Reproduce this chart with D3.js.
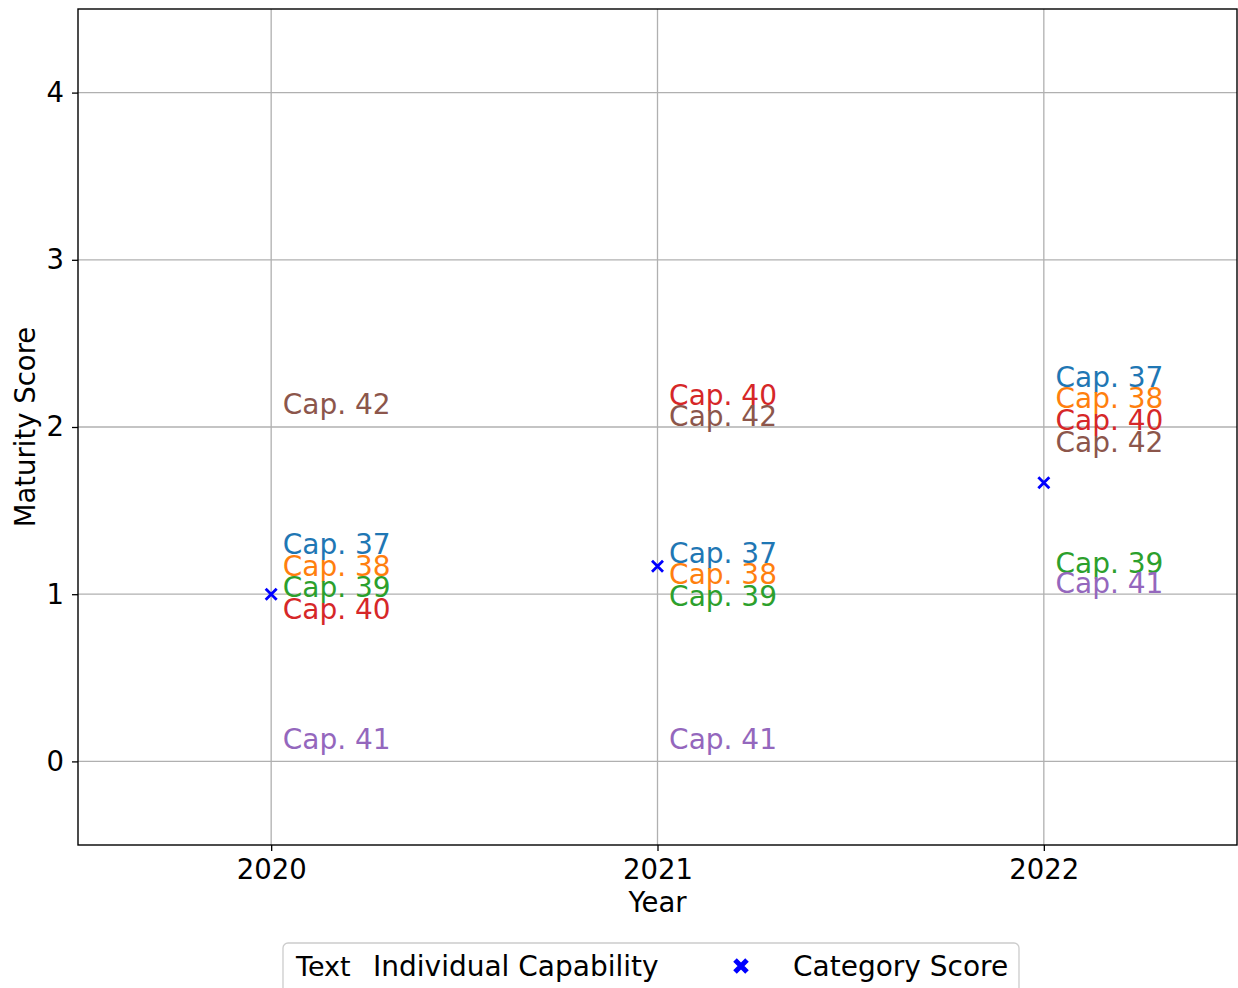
<!DOCTYPE html>
<html>
<head>
<meta charset="utf-8">
<script src="https://cdn.jsdelivr.net/npm/d3@7"></script>
<style>
  body { margin: 0; background: #fff; }
  svg text { font-family: 'DejaVu Sans', sans-serif; }
</style>
</head>
<body>
<svg id="chart" width="1238" height="988" viewBox="0 0 1238 988"></svg>
<script>
'use strict';

/* global d3 */

var years = [2020, 2021, 2022];
var capNames = ['Cap. 37', 'Cap. 38', 'Cap. 39', 'Cap. 40', 'Cap. 41', 'Cap. 42'];
var capColors = ['#1f77b4', '#ff7f0e', '#2ca02c', '#d62728', '#9467bd', '#8c564b'];

// maturity score per capability, one value per year
var score37 = [1, 1, 2];
var score38 = [1, 1, 2];
var score39 = [1, 1, 1];
var score40 = [1, 2, 2];
var score41 = [0, 0, 1];
var score42 = [2, 2, 2];

// where each label sits (labels are stacked so they don't overlap)
var label37 = [1.30, 1.25, 2.30];
var label38 = [1.17, 1.12, 2.173];
var label39 = [1.046, 0.99, 1.19];
var label40 = [0.91, 2.19, 2.043];
var label41 = [0.138, 0.138, 1.066];
var label42 = [2.136, 2.064, 1.914];

var categoryScores = [1.0, 1.167, 1.667];

var yTicks = [0, 1, 2, 3, 4];

var scores = [score37, score38, score39, score40, score41, score42];
var labels = [label37, label38, label39, label40, label41, label42];

var svg = d3.select('#chart');
var margins = { top: 9, right: 1, bottom: 143, left: 78 };
var width = 1238 - margins.left - margins.right;
var height = 988 - margins.top - margins.bottom;
var fontSize = 28;
var tickSize = 27.5;

var g = svg.append('g').attr('transform', 'translate(' + margins.left + ',' + margins.top + ')');

var x = d3.scaleLinear().domain([2019.5, 2022.5]).range([0, width]);
var y = d3.scaleLinear().domain([-0.5, 4.5]).range([height, 0]);

// grid
g.append('g').selectAll('line').data(years).enter().append('line')
  .attr('x1', function (d) { return x(d); })
  .attr('x2', function (d) { return x(d); })
  .attr('y1', 0).attr('y2', height)
  .attr('stroke', '#b0b0b0').attr('stroke-width', 1.3);

g.append('g').selectAll('line').data(yTicks).enter().append('line')
  .attr('x1', 0).attr('x2', width)
  .attr('y1', function (d) { return y(d); })
  .attr('y2', function (d) { return y(d); })
  .attr('stroke', '#b0b0b0').attr('stroke-width', 1.3);

// capability labels
var labelRows = [];
scores.forEach(function (s, i) {
  years.forEach(function (yr, j) {
    labelRows.push({ year: yr, score: s[j], pos: labels[i][j], name: capNames[i], color: capColors[i] });
  });
});

g.append('g').selectAll('text').data(labelRows).enter().append('text')
  .attr('x', function (d) { return x(d.year + 0.03); })
  .attr('y', function (d) { return y(d.pos) + fontSize * 0.364; })
  .attr('fill', function (d) { return d.color; })
  .style('font-size', fontSize + 'px')
  .text(function (d) { return d.name; });

// category score markers
var xMark = function (s) {
  return 'M' + (-s) + ',' + (-s) + 'L' + s + ',' + s + 'M' + (-s) + ',' + s + 'L' + s + ',' + (-s);
};

g.append('g').selectAll('path').data(categoryScores).enter().append('path')
  .attr('transform', function (d, i) { return 'translate(' + x(years[i]) + ',' + y(d) + ')'; })
  .attr('d', xMark(5.5))
  .attr('stroke', '#0000ff').attr('stroke-width', 2.8).attr('fill', 'none');

// axes
var xAxis = d3.axisBottom(x).tickValues(years).tickFormat(d3.format('d')).tickSize(6).tickPadding(8);
var yAxis = d3.axisLeft(y).tickValues(yTicks).tickFormat(d3.format('d')).tickSize(6).tickPadding(8);

var xg = g.append('g').attr('transform', 'translate(0,' + height + ')').call(xAxis);
var yg = g.append('g').call(yAxis);
[xg, yg].forEach(function (a) {
  a.select('.domain').remove();
  a.selectAll('.tick line').attr('stroke', '#000').attr('stroke-width', 1.3);
  a.selectAll('.tick text').style('font-size', tickSize + 'px').attr('fill', '#000')
    .style('font-family', "'DejaVu Sans', sans-serif");
});

// frame
g.append('rect').attr('width', width).attr('height', height)
  .attr('fill', 'none').attr('stroke', '#000').attr('stroke-width', 1.4);

// axis titles
svg.append('text')
  .attr('x', margins.left + width / 2).attr('y', 912)
  .attr('text-anchor', 'middle').style('font-size', tickSize + 'px')
  .text('Year');

svg.append('text')
  .attr('transform', 'translate(35,' + (margins.top + height / 2) + ') rotate(-90)')
  .attr('text-anchor', 'middle').style('font-size', tickSize + 'px')
  .text('Maturity Score');

// legend
var lg = svg.append('g').attr('transform', 'translate(283,943)');
lg.append('rect').attr('width', 736).attr('height', 70).attr('rx', 5)
  .attr('fill', '#fff').attr('stroke', '#cccccc').attr('stroke-width', 1.3);
lg.append('text').attr('x', 13).attr('y', 33).style('font-size', (fontSize - 1) + 'px').text('Text');
lg.append('text').attr('x', 90).attr('y', 33).style('font-size', fontSize + 'px').text('Individual Capability');
lg.append('path').attr('transform', 'translate(458,23)').attr('d', xMark(6))
  .attr('stroke', '#0000ff').attr('stroke-width', 5).attr('fill', 'none');
lg.append('text').attr('x', 510).attr('y', 33).style('font-size', fontSize + 'px').text('Category Score');
</script>
</body>
</html>
